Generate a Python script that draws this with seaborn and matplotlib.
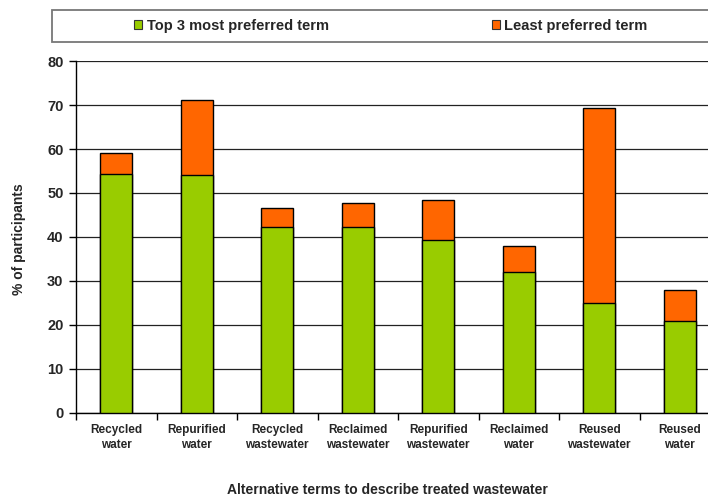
import matplotlib
matplotlib.use("Agg")
import matplotlib.pyplot as plt
from matplotlib.patches import Rectangle
from matplotlib.ticker import FixedLocator
import seaborn as sns
import pandas as pd

categories = ["Recycled\nwater", "Repurified\nwater", "Recycled\nwastewater", "Reclaimed\nwastewater",
              "Repurified\nwastewater", "Reclaimed\nwater", "Reused\nwastewater", "Reused\nwater"]
top3 = [54.4, 54.0, 42.2, 42.2, 39.2, 32.0, 25.0, 20.9]
least = [4.6, 17.1, 4.4, 5.5, 9.2, 6.0, 44.4, 7.0]
yticks = [0, 10, 20, 30, 40, 50, 60, 70, 80]

GREEN = "#99CC00"
ORANGE = "#FF6600"

sns.set_theme(style="white")
plt.rcParams["font.family"] = ["Liberation Sans", "DejaVu Sans"]
plt.rcParams["font.weight"] = "bold"

df = pd.DataFrame({"term": categories, "top3": top3, "least": least})
df["total"] = df["top3"] + df["least"]

W, H = 708, 497
y0, y1 = 412.5, 61.3
fig = plt.figure(figsize=(W / 100, H / 100), dpi=100)
ax = fig.add_axes([76 / W, 1 - y0 / H, (720 - 76) / W, (y0 - y1) / H])

sns.barplot(data=df, x="term", y="total", color=ORANGE, saturation=1, width=0.4,
            edgecolor="black", linewidth=1.0, ax=ax, zorder=3)
sns.barplot(data=df, x="term", y="top3", color=GREEN, saturation=1, width=0.4,
            edgecolor="black", linewidth=1.0, ax=ax, zorder=4)

ax.set_xlim(-0.5, len(categories) - 0.5)
ax.set_ylim(0, 80)
ax.set_yticks(yticks)
ax.set_yticklabels([str(v) for v in yticks], fontsize=10.5, fontweight="bold")
ax.yaxis.grid(True, color="#222222", linewidth=0.9)
ax.set_axisbelow(True)
for s in ["top", "right"]:
    ax.spines[s].set_visible(False)
for s in ["left", "bottom"]:
    ax.spines[s].set_color("black")
    ax.spines[s].set_linewidth(1.0)

ax.tick_params(axis="y", which="major", direction="out", length=5, width=1, color="black", pad=4, left=True)
ax.set_xticks(range(len(categories)))
ax.set_xticklabels(categories, fontsize=8.5, fontweight="bold", linespacing=1.35)
ax.tick_params(axis="x", which="major", length=0, pad=8.5)
ax.xaxis.set_minor_locator(FixedLocator([i - 0.5 for i in range(len(categories) + 1)]))
ax.tick_params(axis="x", which="minor", direction="out", length=5, width=1, color="black", bottom=True)

ax.set_xlabel("Alternative terms to describe treated wastewater", fontsize=10, fontweight="bold")
ax.xaxis.set_label_coords((387.5 - 76) / 644, -(483 - y0) / (y0 - y1))
ax.set_ylabel("% of participants", fontsize=10, fontweight="bold")
ax.yaxis.set_label_coords(-(76 - 26) / 644, (y0 - 239) / (y0 - y1))

# legend frame
fig.patches.append(Rectangle((52 / W, 1 - 42 / H), (730 - 52) / W, 32 / H, transform=fig.transFigure,
                             facecolor="white", edgecolor="#777777", linewidth=1.3))
handles = [Rectangle((0, 0), 1, 1, facecolor=GREEN, edgecolor="#333333", linewidth=0.8),
           Rectangle((0, 0), 1, 1, facecolor=ORANGE, edgecolor="#333333", linewidth=0.8)]
fig.legend(handles, ["Top 3 most preferred term", "Least preferred term"], loc="center",
           bbox_to_anchor=(391 / W, 1 - 26 / H), ncol=2, frameon=False,
           prop={"weight": "bold", "size": 10.5},
           handlelength=0.55, handleheight=0.55, handletextpad=0.3, columnspacing=11.2)

fig.savefig("out.png", dpi=100)
